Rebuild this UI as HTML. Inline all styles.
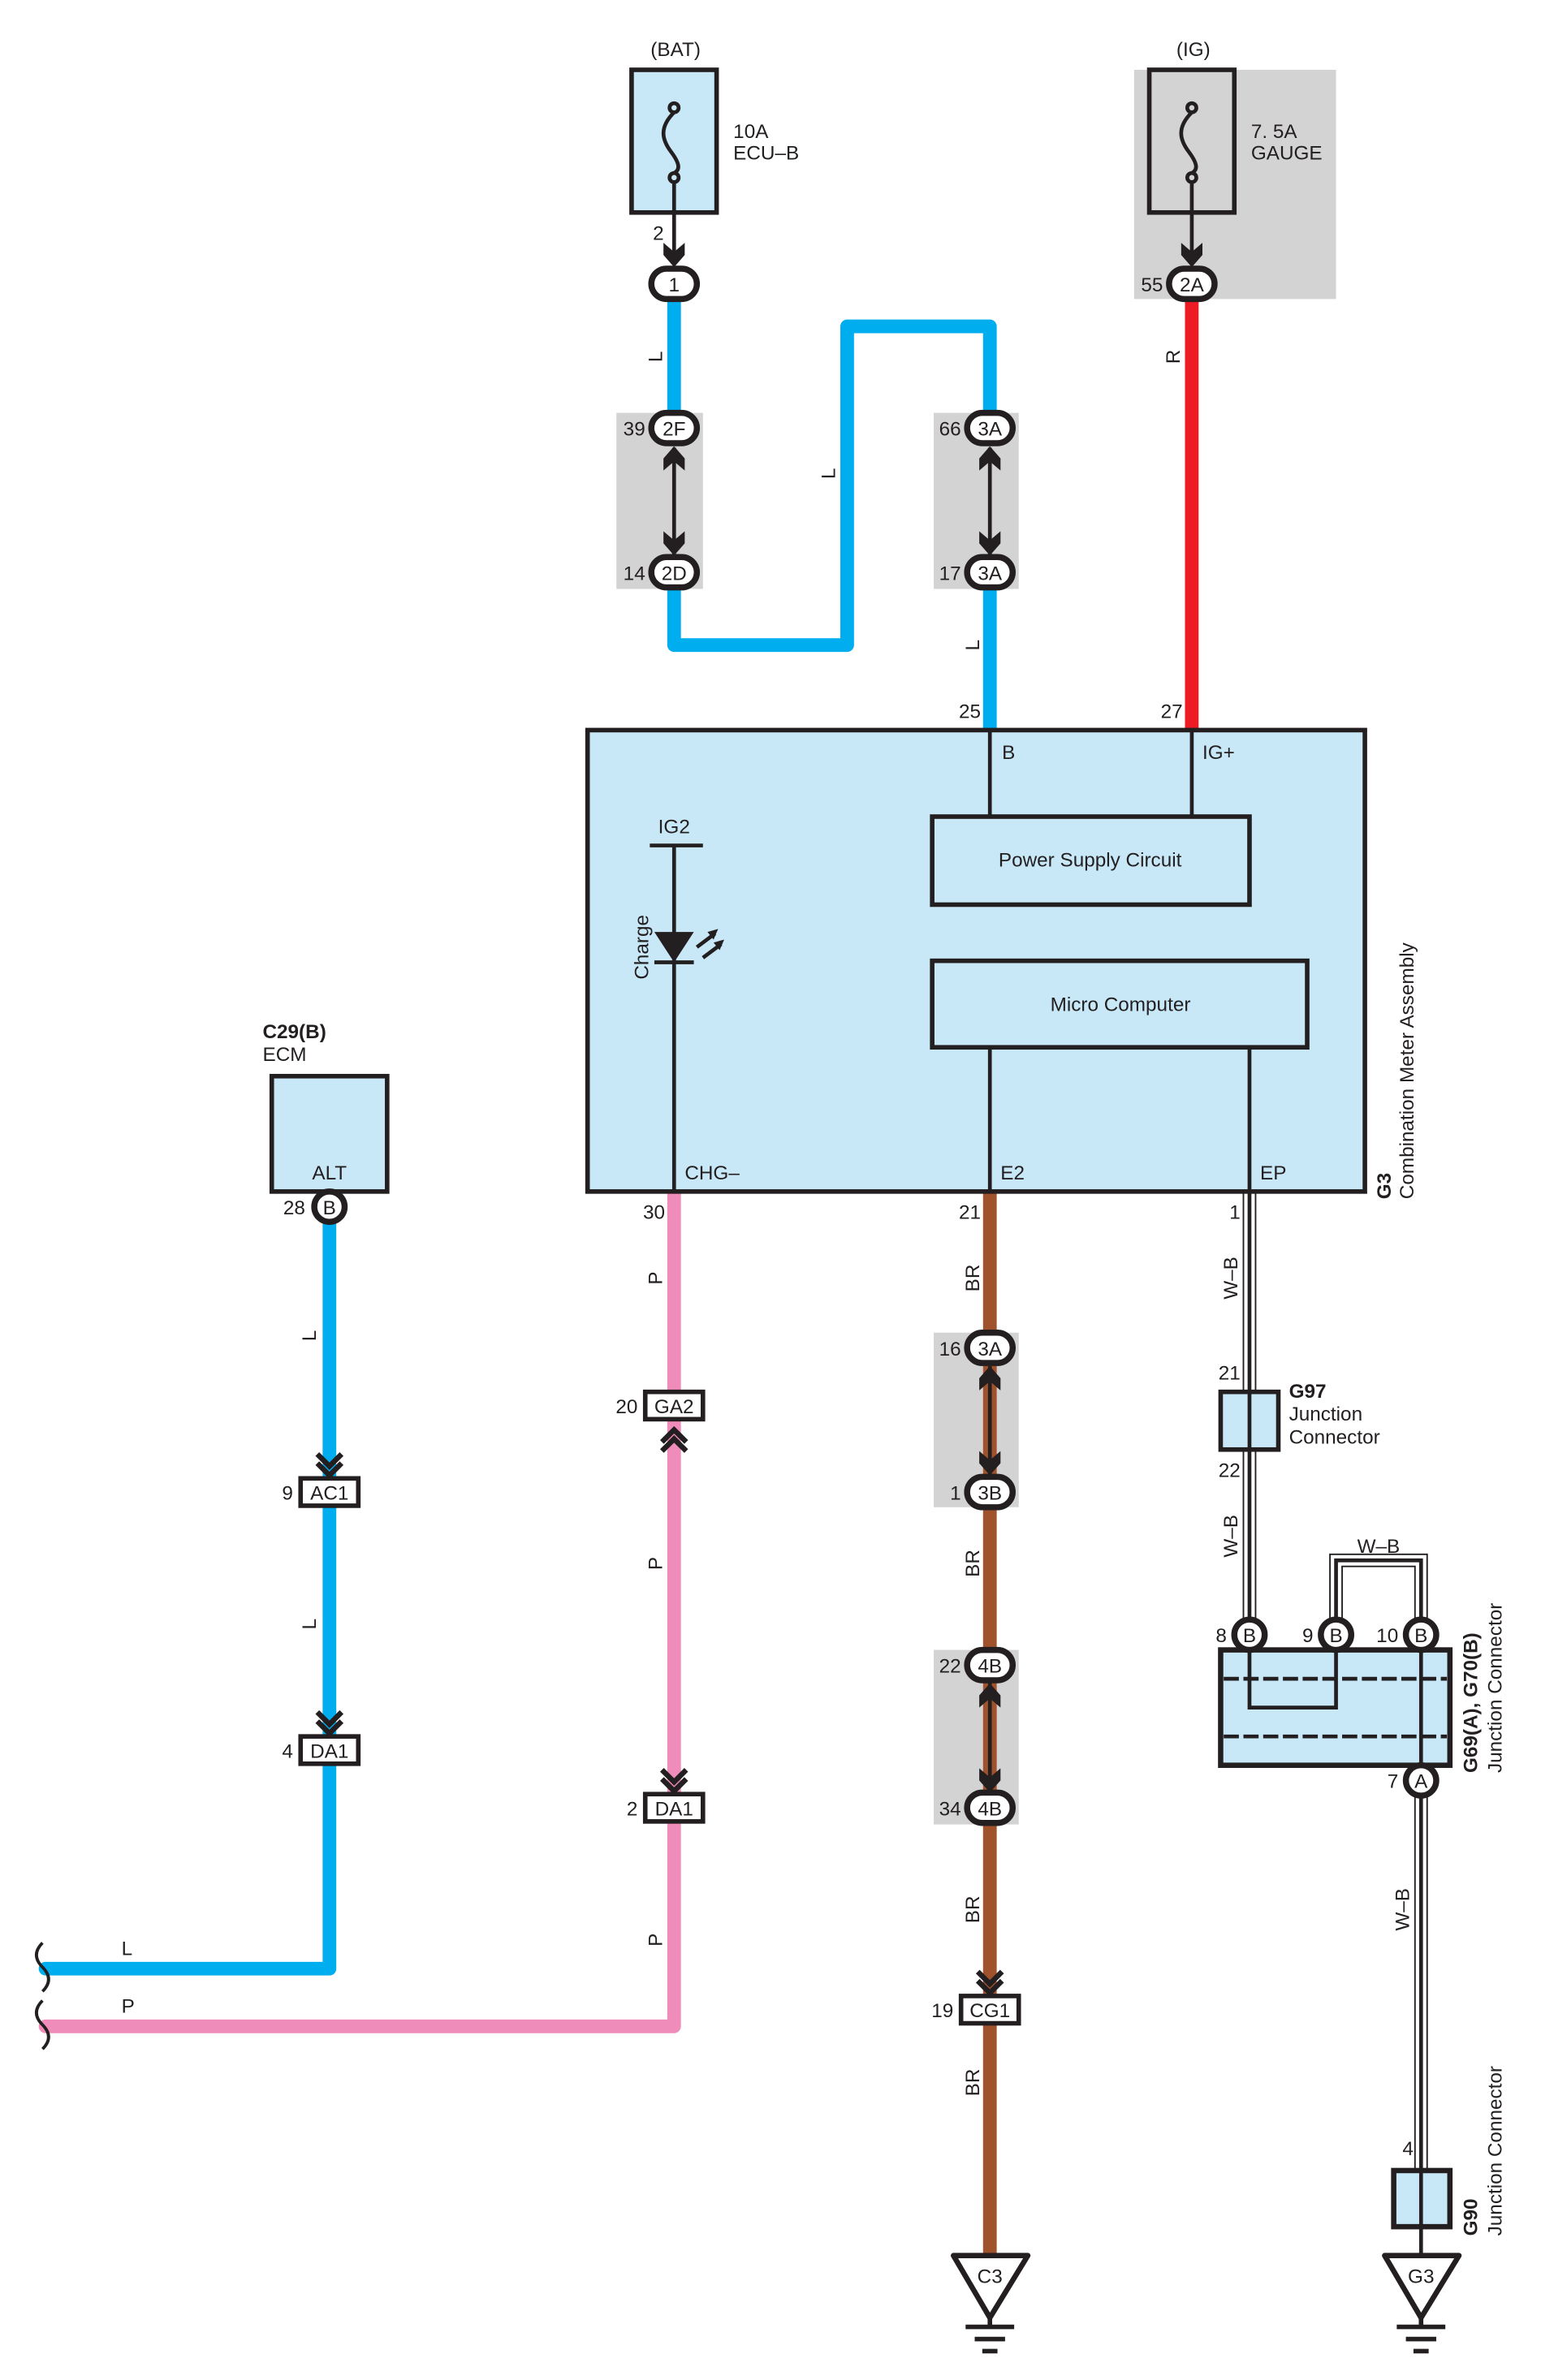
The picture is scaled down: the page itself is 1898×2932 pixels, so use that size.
<!DOCTYPE html>
<html><head><meta charset="utf-8"><style>
html,body{margin:0;padding:0;background:#fff}
svg{display:block}
text{font-family:"Liberation Sans",sans-serif;font-size:13px;fill:#231f20}
</style></head><body>
<svg width="1898" height="2932" viewBox="0 0 1015 1568" preserveAspectRatio="none" xmlns="http://www.w3.org/2000/svg">
<defs>
<g id="chevD"><polyline points="-8,-10 0,-2 8,-10" fill="none" stroke="#231f20" stroke-width="3.5"/><polyline points="-8,-4 0,4 8,-4" fill="none" stroke="#231f20" stroke-width="3.5"/></g>
<g id="arrD"><polygon points="-7,-10 0,-4 7,-10 7,-2 0,6 -7,-2" fill="#231f20"/></g>
</defs>
<rect x="747" y="46" width="133" height="151" fill="#d3d3d3"/>
<rect x="406" y="272" width="57" height="116" fill="#d3d3d3"/>
<rect x="615" y="272" width="56" height="116" fill="#d3d3d3"/>
<rect x="615" y="878" width="56" height="115" fill="#d3d3d3"/>
<rect x="615" y="1087" width="56" height="115" fill="#d3d3d3"/>

<g fill="none" stroke-linejoin="round" stroke-linecap="round">
<polyline points="444,197 444,272" stroke="#00aeef" stroke-width="9"/>
<polyline points="444,387 444,425 558,425 558,215 652,215 652,272" stroke="#00aeef" stroke-width="9"/>
<polyline points="652,387 652,481" stroke="#00aeef" stroke-width="9"/>
<polyline points="785,197 785,481" stroke="#ed1c24" stroke-width="9"/>
<polyline points="217,805 217,1297 30,1297" stroke="#00aeef" stroke-width="9"/>
<polyline points="444,785 444,1335 30,1335" stroke="#f08cba" stroke-width="9"/>
<polyline points="652,785 652,1485" stroke="#a0522d" stroke-width="9"/>
</g>
<g fill="none">
<g stroke="#231f20" stroke-width="9"><line x1="823" y1="785" x2="823" y2="1070"/><line x1="936" y1="1180" x2="936" y2="1430"/><polyline points="880,1070 880,1028 936,1028 936,1070"/></g>
<g stroke="#fff" stroke-width="7"><line x1="823" y1="785" x2="823" y2="1070"/><line x1="936" y1="1180" x2="936" y2="1430"/><polyline points="880,1070 880,1028 936,1028 936,1070"/></g>
<g stroke="#231f20" stroke-width="2.5"><line x1="823" y1="785" x2="823" y2="1070"/><line x1="936" y1="1180" x2="936" y2="1430"/><polyline points="880,1070 880,1028 936,1028 936,1070"/></g>
</g>
<path d="M28,1280 q-8,8 0,16 q8,8 0,16" fill="none" stroke="#231f20" stroke-width="2"/>
<path d="M28,1318 q-8,8 0,16 q8,8 0,16" fill="none" stroke="#231f20" stroke-width="2"/>

<text x="445" y="37" text-anchor="middle">(BAT)</text>
<rect x="416" y="46" width="56" height="94" fill="#c8e8f8" stroke="#231f20" stroke-width="3"/>
<text x="483" y="91">10A</text><text x="483" y="105">ECU–B</text>
<g fill="none" stroke="#231f20" stroke-width="2.5">
<circle cx="444" cy="71" r="3"/><circle cx="444" cy="117" r="3"/>
<path d="M444,74 C434,84 436,92 442,100 C448,108 448,112 444,114"/>
<line x1="444" y1="120" x2="444" y2="172"/>
</g>
<text x="430" y="158">2</text>
<use href="#arrD" x="444" y="170"/>
<text x="786" y="37" text-anchor="middle">(IG)</text>
<rect x="757" y="46" width="56" height="94" fill="#d3d3d3" stroke="#231f20" stroke-width="3"/>
<text x="824" y="91">7. 5A</text><text x="824" y="105">GAUGE</text>
<g fill="none" stroke="#231f20" stroke-width="2.5">
<circle cx="785" cy="71" r="3"/><circle cx="785" cy="117" r="3"/>
<path d="M785,74 C775,84 777,92 783,100 C789,108 789,112 785,114"/>
<line x1="785" y1="120" x2="785" y2="172"/>
</g>
<use href="#arrD" x="785" y="170"/>

<g stroke="#231f20" stroke-width="2.5"><line x1="444" y1="295" x2="444" y2="365"/><line x1="652" y1="295" x2="652" y2="365"/><line x1="652" y1="900" x2="652" y2="972"/><line x1="652" y1="1108" x2="652" y2="1180"/></g>
<use href="#arrD" x="444" y="360"/><use href="#arrD" x="444" y="300" transform="rotate(180 444 300)"/>
<use href="#arrD" x="652" y="360"/><use href="#arrD" x="652" y="300" transform="rotate(180 652 300)"/>
<use href="#arrD" x="652" y="966"/><use href="#arrD" x="652" y="906" transform="rotate(180 652 906)"/>
<use href="#arrD" x="652" y="1175"/><use href="#arrD" x="652" y="1115" transform="rotate(180 652 1115)"/>

<g fill="#fff" stroke="#231f20" stroke-width="4">
<rect x="429" y="177" width="30" height="20" rx="10"/>
<rect x="770" y="177" width="30" height="20" rx="10"/>
<rect x="429" y="272" width="30" height="20" rx="10"/>
<rect x="429" y="367" width="30" height="20" rx="10"/>
<rect x="637" y="272" width="30" height="20" rx="10"/>
<rect x="637" y="367" width="30" height="20" rx="10"/>
<rect x="637" y="878" width="30" height="20" rx="10"/>
<rect x="637" y="973" width="30" height="20" rx="10"/>
<rect x="637" y="1087" width="30" height="20" rx="10"/>
<rect x="637" y="1181" width="30" height="20" rx="10"/>
</g>
<g text-anchor="middle">
<text x="444" y="192">1</text><text x="785" y="192">2A</text>
<text x="444" y="287">2F</text><text x="444" y="382">2D</text>
<text x="652" y="287">3A</text><text x="652" y="382">3A</text>
<text x="652" y="893">3A</text><text x="652" y="988">3B</text>
<text x="652" y="1102">4B</text><text x="652" y="1196">4B</text>
</g>
<g text-anchor="end">
<text x="766" y="192">55</text><text x="425" y="287">39</text><text x="425" y="382">14</text>
<text x="633" y="287">66</text><text x="633" y="382">17</text>
<text x="633" y="893">16</text><text x="633" y="988">1</text>
<text x="633" y="1102">22</text><text x="633" y="1196">34</text>
<text x="646" y="473">25</text><text x="779" y="473">27</text>
<text x="438" y="803">30</text><text x="646" y="803">21</text><text x="817" y="803">1</text>
<text x="201" y="800">28</text>
<text x="817" y="909">21</text><text x="817" y="973">22</text>
<text x="420" y="931">20</text><text x="420" y="1196">2</text>
<text x="193" y="988">9</text><text x="193" y="1158">4</text>
<text x="628" y="1329">19</text>
<text x="808" y="1082">8</text><text x="865" y="1082">9</text><text x="921" y="1082">10</text>
<text x="921" y="1178">7</text><text x="931" y="1420">4</text>
</g>

<g text-anchor="middle">
<text transform="translate(436,235) rotate(-90)">L</text>
<text transform="translate(550,312) rotate(-90)">L</text>
<text transform="translate(645,425) rotate(-90)">L</text>
<text transform="translate(777,235) rotate(-90)">R</text>
<text transform="translate(208,880) rotate(-90)">L</text>
<text transform="translate(208,1070) rotate(-90)">L</text>
<text transform="translate(436,842) rotate(-90)">P</text>
<text transform="translate(436,1030) rotate(-90)">P</text>
<text transform="translate(436,1278) rotate(-90)">P</text>
<text transform="translate(645,842) rotate(-90)">BR</text>
<text transform="translate(645,1030) rotate(-90)">BR</text>
<text transform="translate(645,1258) rotate(-90)">BR</text>
<text transform="translate(645,1372) rotate(-90)">BR</text>
<text transform="translate(815,842) rotate(-90)">W–B</text>
<text transform="translate(815,1012) rotate(-90)">W–B</text>
<text transform="translate(928,1258) rotate(-90)">W–B</text>
<text x="908" y="1023">W–B</text>
</g>
<text x="80" y="1288">L</text><text x="80" y="1326">P</text>

<rect x="387" y="481" width="512" height="304" fill="#c8e8f8" stroke="#231f20" stroke-width="3"/>
<g stroke="#231f20" stroke-width="2.5" fill="none">
<line x1="652" y1="481" x2="652" y2="538"/><line x1="785" y1="481" x2="785" y2="538"/>
<rect x="614" y="538" width="209" height="58" stroke-width="3"/>
<rect x="614" y="633" width="247" height="57" stroke-width="3"/>
<line x1="652" y1="690" x2="652" y2="785"/><line x1="823" y1="690" x2="823" y2="785"/>
<line x1="428" y1="557" x2="463" y2="557"/><line x1="444" y1="557" x2="444" y2="785"/>
<line x1="431" y1="634" x2="457" y2="634"/>
<line x1="459" y1="624" x2="471" y2="615"/><line x1="463" y1="631" x2="475" y2="622"/>
</g>
<polygon points="431,614 457,614 444,634" fill="#231f20"/>
<polygon points="473,612 466,614 470,619" fill="#231f20"/><polygon points="477,619 470,621 474,626" fill="#231f20"/>
<text x="660" y="500">B</text><text x="792" y="500">IG+</text>
<text x="718" y="571" text-anchor="middle">Power Supply Circuit</text>
<text x="738" y="666" text-anchor="middle">Micro Computer</text>
<text x="444" y="549" text-anchor="middle">IG2</text>
<text transform="translate(427,624) rotate(-90)" text-anchor="middle">Charge</text>
<text x="451" y="777">CHG–</text><text x="659" y="777">E2</text><text x="830" y="777">EP</text>
<text transform="translate(916,790) rotate(-90)" style="font-weight:bold">G3</text>
<text transform="translate(931,790) rotate(-90)">Combination Meter Assembly</text>

<text x="173" y="684" style="font-weight:bold">C29(B)</text>
<text x="173" y="699">ECM</text>
<rect x="179" y="709" width="76" height="76" fill="#c8e8f8" stroke="#231f20" stroke-width="3"/>
<text x="217" y="777" text-anchor="middle">ALT</text>

<use href="#chevD" x="217" y="968"/>
<use href="#chevD" x="217" y="1138"/>
<use href="#chevD" x="444" y="1176"/>
<use href="#chevD" x="652" y="1309"/>
<use href="#chevD" x="444" y="946" transform="rotate(180 444 946)"/>

<g fill="#fff" stroke="#231f20" stroke-width="3">
<rect x="198" y="974" width="38" height="18"/>
<rect x="198" y="1144" width="38" height="18"/>
<rect x="425" y="917" width="38" height="18"/>
<rect x="425" y="1182" width="38" height="18"/>
<rect x="633" y="1315" width="38" height="18"/>
</g>
<g text-anchor="middle">
<text x="217" y="988">AC1</text><text x="217" y="1158">DA1</text>
<text x="444" y="931">GA2</text><text x="444" y="1196">DA1</text>
<text x="652" y="1329">CG1</text>
</g>

<rect x="804" y="917" width="38" height="38" fill="#c8e8f8" stroke="#231f20" stroke-width="3"/>
<line x1="823" y1="917" x2="823" y2="955" stroke="#231f20" stroke-width="2.5"/>
<text x="849" y="921" style="font-weight:bold">G97</text><text x="849" y="936">Junction</text><text x="849" y="951">Connector</text>

<rect x="804" y="1087" width="151" height="76" fill="#c8e8f8" stroke="#231f20" stroke-width="3.5"/>
<g stroke="#231f20" stroke-width="2.5" fill="none">
<line x1="806" y1="1106" x2="953" y2="1106" stroke-dasharray="10,3"/>
<line x1="806" y1="1144" x2="953" y2="1144" stroke-dasharray="10,3"/>
<polyline points="823,1087 823,1125 880,1125 880,1087"/>
<line x1="936" y1="1087" x2="936" y2="1163"/>
</g>
<text transform="translate(973,1168) rotate(-90)" style="font-weight:bold">G69(A), G70(B)</text>
<text transform="translate(989,1168) rotate(-90)">Junction Connector</text>

<g fill="#fff" stroke="#231f20" stroke-width="4">
<circle cx="217" cy="795" r="10"/>
<circle cx="823" cy="1077" r="10"/><circle cx="880" cy="1077" r="10"/><circle cx="936" cy="1077" r="10"/>
<circle cx="936" cy="1173" r="10"/>
</g>
<g text-anchor="middle">
<text x="217" y="800">B</text><text x="823" y="1082">B</text><text x="880" y="1082">B</text><text x="936" y="1082">B</text><text x="936" y="1178">A</text>
</g>

<rect x="918" y="1430" width="37" height="37" fill="#c8e8f8" stroke="#231f20" stroke-width="3.5"/>
<line x1="936" y1="1430" x2="936" y2="1485" stroke="#231f20" stroke-width="2.5"/>
<text transform="translate(973,1473) rotate(-90)" style="font-weight:bold">G90</text>
<text transform="translate(989,1473) rotate(-90)">Junction Connector</text>

<g fill="#fff" stroke="#231f20" stroke-width="3.5" stroke-linejoin="round">
<polygon points="628,1486 677,1486 652,1527"/>
<polygon points="912,1486 961,1486 936,1527"/>
</g>
<g stroke="#231f20" stroke-width="3">
<line x1="652" y1="1527" x2="652" y2="1533"/><line x1="636" y1="1533" x2="668" y2="1533"/><line x1="642" y1="1541" x2="662" y2="1541"/><line x1="647" y1="1549" x2="657" y2="1549"/>
<line x1="936" y1="1527" x2="936" y2="1533"/><line x1="920" y1="1533" x2="952" y2="1533"/><line x1="926" y1="1541" x2="946" y2="1541"/><line x1="931" y1="1549" x2="941" y2="1549"/>
</g>
<text x="652" y="1504" text-anchor="middle">C3</text>
<text x="936" y="1504" text-anchor="middle">G3</text>
</svg>
</body></html>
